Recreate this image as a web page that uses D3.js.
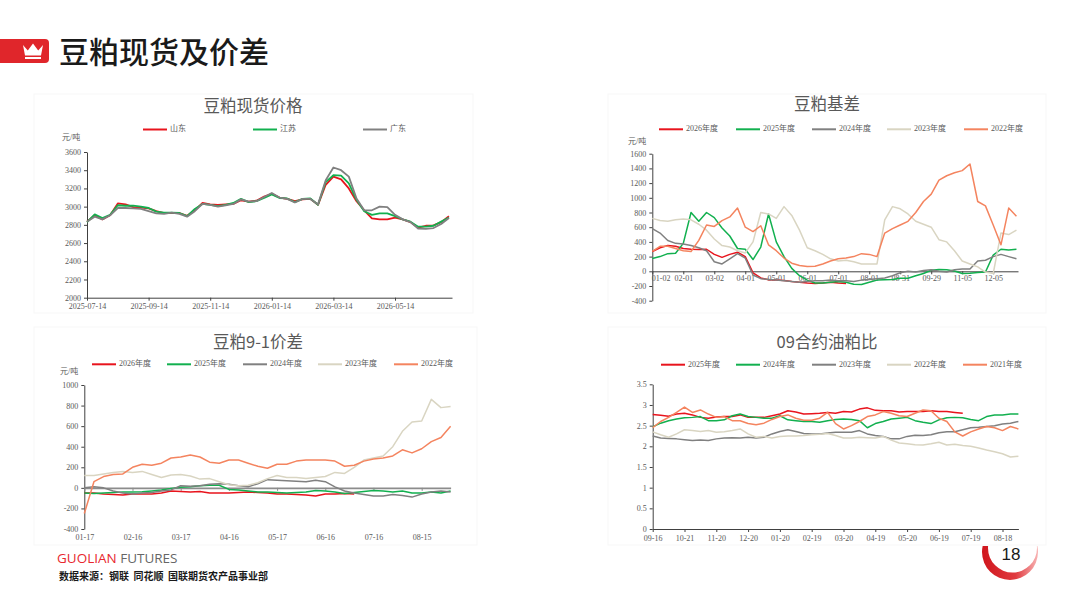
<!DOCTYPE html>
<html>
<head>
<meta charset="utf-8">
<script src="https://cdn.jsdelivr.net/npm/d3@7"></script>
<style>
  body { margin: 0; background: #fff; }
  svg { display: block; }
</style>
</head>
<body>
<svg id="slide" width="1080" height="608"></svg>
<script>
// ---- data ----
const seriesColors = ["#e8141d", "#12b04f", "#808080", "#d9d5c2", "#f4845f"];

// 豆粕现货价格 (weekly-ish samples, 8 per 2-month tick)
const spotTicks = ["2025-07-14", "2025-09-14", "2025-11-14", "2026-01-14", "2026-03-14", "2026-05-14"];
const spotNames = ["山东", "江苏", "广东"];
const spotShandong = [2835,2905,2860,2905,3035,3025,2995,2990,2980,2950, 2930,2930,2930,2900,2960,3040,3025,3020,3025,3030,
  3070,3055,3065,3110,3140,3100,3085,3060,3080,3085, 3020,3240,3330,3300,3200,3060,2960,2870,2860,2860,
  2880,2860,2830,2770,2790,2795,2830,2895];
const spotJiangsu = [2830,2915,2875,2910,3015,3010,3010,3000,2985,2945, 2935,2935,2930,2895,2975,3030,3020,3005,3020,3040,
  3085,3050,3060,3095,3135,3095,3090,3050,3085,3090, 3020,3270,3345,3340,3255,3075,2950,2910,2925,2925,
  2895,2860,2835,2780,2780,2790,2835,2880];
const spotGuangdong = [2835,2890,2860,2905,2985,2985,2980,2975,2950,2925, 2920,2935,2920,2890,2950,3030,3020,3000,3015,3030,
  3080,3055,3060,3105,3150,3100,3085,3045,3085,3085, 3025,3290,3430,3400,3330,3090,2960,2960,3000,2995,
  2910,2860,2830,2760,2755,2765,2810,2875];

// 豆粕基差 (4 samples per tick)
const basisTicks = ["01-02", "02-01", "03-02", "04-01", "05-01", "06-01", "07-01", "08-01", "08-31", "09-29", "11-05", "12-05"];
const basisNames = ["2026年度", "2025年度", "2024年度", "2023年度", "2022年度"];
const basis2026 = [270,320,350,340,310,300,295,300,230,190, 230,260,200,-20,-90,-115,-120,-125,-140,-150,
  -160,-165,-160,-150,-160,-165];
const basis2025 = [175,200,240,245,380,800,680,800,730,590, 480,310,300,160,330,780,400,200,40,-60,
  -120,-160,-160,-150,-140,-150,-175,-180,-150,-120, -115,-110,-95,-95,-60,-30,15,25,20,5,
  -30,-25,-15,-10,220,300,290,300];
const basis2024 = [580,520,420,380,370,350,320,280,130,100, 170,240,180,-50,-100,-110,-120,-130,-140,-150,
  -140,-130,-130,-120,-130,-130,-140,-120,-110,-100, -90,-60,-20,0,-10,10,20,0,-10,20,
  30,30,140,150,200,230,200,170];
const basis2023 = [720,690,680,700,710,700,640,560,440,350, 330,280,250,400,800,780,720,880,760,560,
  320,280,230,170,140,150,130,100,100,100, 700,880,850,780,680,640,600,430,400,280,
  140,100,60,-10,-30,520,500,560];
const basis2022 = [270,340,340,310,280,270,420,630,610,690, 740,860,600,540,620,360,280,180,110,80,
  65,70,100,140,170,180,200,240,230,200, 520,580,630,680,800,950,1050,1240,1300,1340,
  1370,1460,950,890,630,360,860,750];

// 豆粕9-1价差 (5 samples per tick)
const spreadTicks = ["01-17", "02-16", "03-17", "04-16", "05-17", "06-16", "07-16", "08-15"];
const spreadNames = ["2026年度", "2025年度", "2024年度", "2023年度", "2022年度"];
const spread2026 = [-50,-50,-60,-65,-70,-60,-60,-60,-50,-30, -35,-40,-35,-50,-50,-50,-45,-40,-45,-50,
  -60,-60,-65,-70,-80,-60,-60,-55,-60];
const spread2025 = [-50,-55,-50,-45,-40,-40,-38,-30,-20,-5, 5,10,20,25,25,-15,-20,-30,-40,-40,
  -45,-50,-45,-40,-25,-30,-40,-55,-45,-35, -25,-30,-40,-30,-50,-50,-40,-50,-30];
const spread2024 = [0,10,0,-30,-50,-60,-50,-45,-30,-20, 20,15,20,35,40,35,20,10,40,80,
  75,70,65,60,75,60,10,-30,-50,-65, -80,-80,-65,-75,-90,-60,-40,-30,-40];
const spread2023 = [120,120,135,150,160,150,160,130,100,125, 130,115,85,90,60,30,20,25,50,90,
  120,100,100,90,100,110,150,140,200,270, 290,310,400,550,640,650,860,780,790];
const spread2022 = [-250,60,110,130,135,200,230,220,240,290, 300,320,300,250,240,270,270,240,210,190,
  230,230,260,270,270,270,260,210,220,260, 280,290,310,370,340,380,450,490,600];

// 09合约油粕比 (4 samples per tick)
const ratioTicks = ["09-16", "10-21", "11-20", "12-20", "01-20", "02-19", "03-20", "04-19", "05-20", "06-19", "07-19", "08-18"];
const ratioNames = ["2025年度", "2024年度", "2023年度", "2022年度", "2021年度"];
const ratio2025 = [2.77,2.75,2.73,2.78,2.8,2.76,2.7,2.68,2.71,2.72, 2.72,2.76,2.7,2.7,2.7,2.74,2.78,2.86,2.83,2.78,
  2.79,2.8,2.82,2.8,2.84,2.83,2.9,2.93,2.87,2.86, 2.86,2.83,2.84,2.84,2.84,2.86,2.84,2.84,2.82,2.8];
const ratio2024 = [2.47,2.56,2.62,2.66,2.69,2.7,2.72,2.62,2.62,2.64, 2.74,2.78,2.72,2.7,2.68,2.68,2.74,2.64,2.62,2.6,
  2.6,2.58,2.62,2.65,2.66,2.65,2.62,2.45,2.55,2.6, 2.66,2.68,2.7,2.62,2.58,2.55,2.64,2.69,2.7,2.69,
  2.65,2.62,2.72,2.76,2.76,2.78,2.78];
const ratio2023 = [2.25,2.2,2.19,2.18,2.16,2.14,2.15,2.14,2.18,2.2, 2.21,2.2,2.22,2.2,2.22,2.3,2.36,2.4,2.36,2.31,
  2.3,2.3,2.32,2.34,2.34,2.34,2.38,2.3,2.26,2.24, 2.18,2.18,2.24,2.27,2.26,2.28,2.33,2.35,2.35,2.4,
  2.45,2.46,2.48,2.5,2.54,2.56,2.6];
const ratio2022 = [2.35,2.28,2.22,2.3,2.4,2.38,2.36,2.38,2.34,2.35, 2.38,2.42,2.3,2.22,2.24,2.2,2.24,2.25,2.25,2.26,
  2.28,2.29,2.31,2.26,2.2,2.2,2.22,2.21,2.2,2.24, 2.15,2.08,2.06,2.04,2.03,2.06,2.1,2.03,2.05,2.02,
  2.0,1.96,1.91,1.87,1.82,1.74,1.76];
const ratio2021 = [2.45,2.6,2.7,2.82,2.95,2.82,2.88,2.78,2.7,2.72, 2.62,2.62,2.55,2.52,2.56,2.65,2.72,2.76,2.68,2.63,
  2.63,2.68,2.82,2.55,2.42,2.5,2.6,2.72,2.76,2.84, 2.8,2.74,2.72,2.8,2.88,2.86,2.68,2.6,2.35,2.25,
  2.35,2.42,2.48,2.45,2.38,2.48,2.42];

const svg = d3.select("#slide");
const serif = "'Liberation Serif', 'Noto Sans CJK SC', serif";
const cjk = "'Noto Sans CJK SC', 'Noto Sans', sans-serif";

svg.append("rect").attr("width", 1080).attr("height", 608).attr("fill", "#fff");

// faint panel frames
[[34, 94, 439, 219], [608, 94, 438, 219], [34, 327, 443, 218], [608, 327, 438, 218]].forEach(function (r) {
    svg.append("rect").attr("x", r[0]).attr("y", r[1]).attr("width", r[2]).attr("height", r[3])
        .attr("fill", "none").attr("stroke", "#f7f7f7").attr("stroke-width", 1);
});

// ---- header ----
svg.append("path")
    .attr("d", "M0,39 H45 Q49,39 49,43 V59 Q49,63 45,63 H0 Z")
    .attr("fill", "#e0262b");
svg.append("path")
    .attr("d", "M23,45 L27.8,50.5 L33,43.5 L38.2,50.5 L43,45 L41,55.5 L25,55.5 Z")
    .attr("fill", "#fff");
svg.append("rect").attr("x", 25).attr("y", 57).attr("width", 16).attr("height", 2).attr("fill", "#fff");
svg.append("text").attr("x", 59).attr("y", 63)
    .style("font-family", cjk).style("font-size", "30px").style("font-weight", 500)
    .attr("fill", "#1a1a1a").text("豆粕现货及价差");

// ---- footer ----
const brand = svg.append("text").attr("x", 57).attr("y", 563)
    .style("font-family", "'Open Sans', 'Liberation Sans', sans-serif").style("font-size", "13.5px");
brand.append("tspan").attr("fill", "#e8272e").text("GUOLIAN");
brand.append("tspan").attr("fill", "#666").text(" FUTURES");
svg.append("text").attr("x", 59).attr("y", 580)
    .style("font-family", cjk).style("font-size", "10px").style("font-weight", 700)
    .attr("fill", "#1a1a1a").text("数据来源：钢联\u00a0\u00a0同花顺\u00a0\u00a0国联期货农产品事业部");

// page badge: a red crescent under the number
function circlePath(cx, cy, r) {
    return "M" + (cx - r) + "," + cy + " a" + r + "," + r + " 0 1,0 " + (2 * r) + ",0" +
        " a" + r + "," + r + " 0 1,0 " + (-2 * r) + ",0 Z";
}
const defs = svg.append("defs");
const grad = defs.append("linearGradient").attr("id", "badge").attr("x1", "0").attr("x2", "1");
grad.append("stop").attr("offset", "0").attr("stop-color", "#d0161d");
grad.append("stop").attr("offset", "0.6").attr("stop-color", "#e03a3f");
grad.append("stop").attr("offset", "1").attr("stop-color", "#f8b4b4");
defs.append("clipPath").attr("id", "lowerHalf")
    .append("rect").attr("x", 970).attr("y", 546).attr("width", 80).attr("height", 50);
svg.append("path")
    .attr("d", circlePath(1010, 552, 28) + " " + circlePath(1012.5, 548, 24.5))
    .attr("fill-rule", "evenodd")
    .attr("fill", "url(#badge)")
    .attr("clip-path", "url(#lowerHalf)");
svg.append("text").attr("x", 1011).attr("y", 560).attr("text-anchor", "middle")
    .style("font-family", "'Liberation Sans', Arial, sans-serif").style("font-size", "17px")
    .attr("fill", "#1a1a1a").text("18");

// ---- generic panel ----
function drawPanel(c) {
    const g = svg.append("g");
    const x = d3.scaleLinear().domain([0, c.xMax]).range(c.xRange);
    const y = d3.scaleLinear().domain(c.yDomain).range(c.yRange);

    g.append("text").attr("x", c.titleX).attr("y", c.titleY)
        .attr("text-anchor", "middle").attr("dominant-baseline", "middle")
        .style("font-family", cjk).style("font-size", "16.5px").attr("fill", "#595959")
        .text(c.title);

    if (c.unit) {
        g.append("text").attr("x", c.unit[0]).attr("y", c.unit[1]).attr("dominant-baseline", "middle")
            .style("font-family", serif).style("font-size", "8px").attr("fill", "#595959").text("元/吨");
    }

    // legend
    c.names.forEach(function (name, i) {
        const lx = c.legendX[i];
        g.append("line").attr("x1", lx).attr("x2", lx + 24).attr("y1", c.legendY).attr("y2", c.legendY)
            .attr("stroke", c.colors[i]).attr("stroke-width", 2);
        g.append("text").attr("x", lx + 27).attr("y", c.legendY).attr("dominant-baseline", "middle")
            .style("font-family", serif).style("font-size", "8px").attr("fill", "#595959").text(name);
    });

    // y axis
    const yTicks = d3.range(c.yDomain[0], c.yDomain[1] + c.yStep / 2, c.yStep);
    const yg = g.append("g").attr("transform", "translate(" + c.xRange[0] + ",0)")
        .call(d3.axisLeft(y).tickValues(yTicks).tickSize(3).tickSizeOuter(0).tickPadding(3)
            .tickFormat(function (d) { return String(+d.toFixed(2)); }));
    yg.selectAll("path, line").attr("stroke", "#404040");
    yg.selectAll("text").style("font-family", serif).style("font-size", "8px").attr("fill", "#595959");

    // x axis
    const xg = g.append("g").attr("transform", "translate(0," + y(c.xAxisAt) + ")")
        .call(d3.axisBottom(x)
            .tickValues(c.xLabels.map(function (_, i) { return i * c.perTick; }))
            .tickFormat(function (_, i) { return c.xLabels[i]; })
            .tickSize(3).tickSizeOuter(0));
    xg.selectAll("path, line").attr("stroke", c.xAxisColor || "#404040")
    xg.select(".domain").attr("stroke-width", c.xAxisWidth || 1);
    xg.selectAll("text").style("font-family", serif).style("font-size", "8px").attr("fill", "#595959");
    if (c.xLabelY) {
        xg.selectAll("text").attr("y", c.xLabelY - y(c.xAxisAt)).attr("dy", "0");
    }
    // first label sits just right of the y-axis labels when the axis crosses at zero
    if (c.firstLabelStart) {
        xg.select(".tick text").attr("text-anchor", "start").attr("x", -1);
    }

    // the lines
    const line = d3.line()
        .x(function (d, i) { return x(i); })
        .y(function (d) { return y(d); });
    c.series.forEach(function (values, i) {
        g.append("path")
            .datum(values)
            .attr("fill", "none")
            .attr("stroke", c.colors[i])
            .attr("stroke-width", c.lineWidth || 1.5)
            .attr("stroke-linejoin", "round")
            .attr("d", line);
    });
}

drawPanel({
    title: "豆粕现货价格", titleX: 253, titleY: 108,
    unit: [62, 138],
    names: spotNames, colors: [seriesColors[0], seriesColors[1], seriesColors[2]],
    legendX: [143, 253, 363], legendY: 129.5,
    series: [spotShandong, spotJiangsu, spotGuangdong],
    xLabels: spotTicks, perTick: 8, xMax: 47.4, xRange: [87, 452],
    yDomain: [2000, 3600], yRange: [297.7, 152], yStep: 200,
    xAxisAt: 2000, lineWidth: 1.8
});

drawPanel({
    title: "豆粕基差", titleX: 827, titleY: 106,
    unit: [628, 142],
    names: basisNames, colors: seriesColors,
    legendX: [659, 736, 812, 887, 964], legendY: 129.3,
    series: [basis2026, basis2025, basis2024, basis2023, basis2022],
    xLabels: basisTicks, perTick: 4, xMax: 47.2, xRange: [652.3, 1018],
    yDomain: [-400, 1600], yRange: [300.7, 153.7], yStep: 200,
    xAxisAt: 0, xLabelY: 281, firstLabelStart: true
});

drawPanel({
    title: "豆粕9-1价差", titleX: 258, titleY: 344,
    unit: [60, 372],
    names: spreadNames, colors: seriesColors,
    legendX: [92, 167, 243, 318, 394], legendY: 364.3,
    series: [spread2026, spread2025, spread2024, spread2023, spread2022],
    xLabels: spreadTicks, perTick: 5, xMax: 38, xRange: [84.3, 450.6],
    yDomain: [-400, 1000], yRange: [529, 385], yStep: 200,
    xAxisAt: 0, xLabelY: 540, xAxisColor: "#8c8c8c", xAxisWidth: 1.6
});

drawPanel({
    title: "09合约油粕比", titleX: 827, titleY: 344,
    unit: null,
    names: ratioNames, colors: seriesColors,
    legendX: [661, 736, 812, 887, 963], legendY: 364.7,
    series: [ratio2025, ratio2024, ratio2023, ratio2022, ratio2021],
    xLabels: ratioTicks, perTick: 4, xMax: 46, xRange: [652.7, 1018.4],
    yDomain: [0, 3.5], yRange: [529, 384.3], yStep: 0.5,
    xAxisAt: 0
});
</script>
</body>
</html>
